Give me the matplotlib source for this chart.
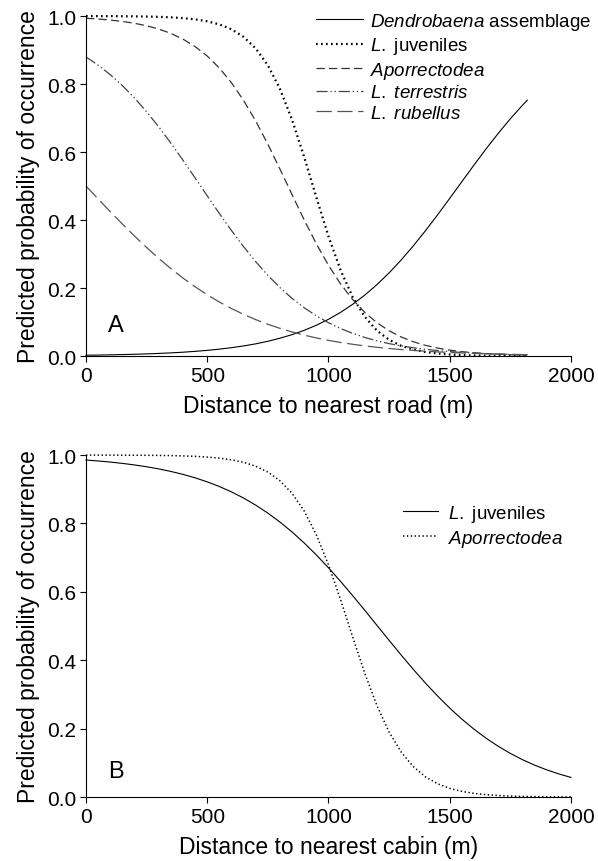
#!/usr/bin/env python3
"""Predicted probability of earthworm occurrence vs. distance to roads / cabins.

Two stacked panels:
  A. distance to nearest road  (5 taxa)
  B. distance to nearest cabin (2 taxa)
"""

import matplotlib
matplotlib.use("Agg")
import matplotlib.pyplot as plt

plt.rcParams["font.family"] = ["Liberation Sans", "DejaVu Sans"]
plt.rcParams["mathtext.fontset"] = "custom"
plt.rcParams["mathtext.rm"] = "Liberation Sans"
plt.rcParams["mathtext.it"] = "Liberation Sans:italic"
plt.rcParams["lines.scale_dashes"] = False

OUT_PNG = "out.png"

# ---- Panel A: distance to nearest road (m) ----
ROAD_DIST = [0, 50, 100, 150, 200, 250, 300, 350, 400, 450, 500, 550, 600,
             650, 700, 750, 800, 850, 900, 950, 1000, 1050, 1100, 1150, 1200,
             1250, 1300, 1350, 1400, 1450, 1500, 1550, 1600, 1650, 1700, 1750,
             1800, 1820]

DENDROBAENA = [0.0024, 0.0029, 0.0035, 0.0043, 0.0052, 0.0063, 0.0077, 0.0093,
               0.0113, 0.0138, 0.0167, 0.0203, 0.0246, 0.0297, 0.0359, 0.0434,
               0.0524, 0.0630, 0.0757, 0.0906, 0.1081, 0.1286, 0.1523, 0.1794,
               0.2102, 0.2446, 0.2827, 0.3242, 0.3687, 0.4154, 0.4638, 0.5129,
               0.5617, 0.6094, 0.6550, 0.6980, 0.7377, 0.7526]

L_JUV_ROAD = [0.9999, 0.9998, 0.9997, 0.9995, 0.9991, 0.9986, 0.9977, 0.9963,
              0.9940, 0.9904, 0.9846, 0.9755, 0.9611, 0.9387, 0.9048, 0.8551,
              0.7855, 0.6945, 0.5852, 0.4668, 0.3521, 0.2522, 0.1731, 0.1150,
              0.0746, 0.0477, 0.0301, 0.0189, 0.0118, 0.0074, 0.0046, 0.0029,
              0.0018, 0.0011, 0.0007, 0.0004, 0.0003, 0.0002]

APORR_ROAD = [0.9936, 0.9913, 0.9883, 0.9842, 0.9788, 0.9715, 0.9618, 0.9490,
              0.9321, 0.9103, 0.8824, 0.8472, 0.8038, 0.7517, 0.6911, 0.6231,
              0.5498, 0.4744, 0.4001, 0.3301, 0.2670, 0.2121, 0.1659, 0.1281,
              0.0980, 0.0743, 0.0560, 0.0420, 0.0314, 0.0234, 0.0174, 0.0129,
              0.0096, 0.0071, 0.0053, 0.0039, 0.0029, 0.0025]

L_TERRESTRIS = [0.8797, 0.8557, 0.8277, 0.7955, 0.7591, 0.7186, 0.6742, 0.6263,
                0.5759, 0.5239, 0.4713, 0.4193, 0.3691, 0.3216, 0.2775, 0.2373,
                0.2013, 0.1696, 0.1420, 0.1182, 0.0980, 0.0809, 0.0666, 0.0546,
                0.0447, 0.0365, 0.0298, 0.0243, 0.0198, 0.0161, 0.0131, 0.0106,
                0.0086, 0.0070, 0.0057, 0.0046, 0.0037, 0.0034]

L_RUBELLUS = [0.5000, 0.4622, 0.4248, 0.3883, 0.3530, 0.3192, 0.2872, 0.2572,
              0.2294, 0.2037, 0.1802, 0.1589, 0.1397, 0.1225, 0.1071, 0.0934,
              0.0814, 0.0707, 0.0614, 0.0532, 0.0461, 0.0399, 0.0345, 0.0298,
              0.0257, 0.0222, 0.0191, 0.0165, 0.0142, 0.0122, 0.0105, 0.0091,
              0.0078, 0.0067, 0.0058, 0.0050, 0.0043, 0.0040]

# ---- Panel B: distance to nearest cabin (m) ----
CABIN_DIST = [0, 50, 100, 150, 200, 250, 300, 350, 400, 450, 500, 550, 600,
              650, 700, 750, 800, 850, 900, 950, 1000, 1050, 1100, 1150, 1200,
              1250, 1300, 1350, 1400, 1450, 1500, 1550, 1600, 1650, 1700, 1750,
              1800, 1850, 1900, 1950, 2000]

L_JUV_CABIN = [0.9855, 0.9828, 0.9796, 0.9757, 0.9712, 0.9659, 0.9596, 0.9522,
               0.9436, 0.9335, 0.9217, 0.9081, 0.8923, 0.8743, 0.8536, 0.8303,
               0.8041, 0.7750, 0.7429, 0.7080, 0.6704, 0.6305, 0.5888, 0.5458,
               0.5020, 0.4582, 0.4151, 0.3732, 0.3331, 0.2954, 0.2602, 0.2278,
               0.1985, 0.1720, 0.1484, 0.1276, 0.1093, 0.0933, 0.0795, 0.0676,
               0.0573]

APORR_CABIN = [0.9999, 0.9999, 0.9998, 0.9997, 0.9996, 0.9994, 0.9990, 0.9985,
               0.9976, 0.9963, 0.9942, 0.9911, 0.9862, 0.9788, 0.9674, 0.9503,
               0.9248, 0.8880, 0.8362, 0.7667, 0.6792, 0.5769, 0.4676, 0.3612,
               0.2670, 0.1900, 0.1313, 0.0887, 0.0590, 0.0388, 0.0253, 0.0165,
               0.0107, 0.0069, 0.0045, 0.0029, 0.0019, 0.0012, 0.0008, 0.0005,
               0.0003]

X_TICKS = [0, 500, 1000, 1500, 2000]
Y_TICKS = [0.0, 0.2, 0.4, 0.6, 0.8, 1.0]

TICK_FS = 15
LABEL_FS = 16.5
LEGEND_FS = 13.5


def style_axes(ax, xlabel, panel, panel_y):
    ax.set_xlim(0, 2000)
    ax.set_ylim(0, 1)
    ax.set_xticks(X_TICKS)
    ax.set_yticks(Y_TICKS)
    ax.set_yticklabels([f"{v:.1f}" for v in Y_TICKS])
    for side in ("top", "right"):
        ax.spines[side].set_visible(False)
    for side in ("left", "bottom"):
        ax.spines[side].set_linewidth(0.8)
    ax.tick_params(direction="out", length=4, width=0.8, labelsize=TICK_FS, pad=3)
    ax.set_xlabel(xlabel, fontsize=LABEL_FS, labelpad=7)
    ax.set_ylabel("Predicted probability of occurrence", fontsize=LABEL_FS, labelpad=5)
    ax.text(0.045, panel_y, panel, transform=ax.transAxes, fontsize=17,
            ha="left", va="center")


def plot_road(ax):
    ax.plot(ROAD_DIST, DENDROBAENA, color="black", lw=0.8, clip_on=False,
            label=r"$\mathit{Dendrobaena}$ assemblage")
    ax.plot(ROAD_DIST, L_JUV_ROAD, color="black", lw=1.6,
            linestyle=(0, (1.2, 2.4)), clip_on=False,
            label=r"$\mathit{L.}$ juveniles")
    ax.plot(ROAD_DIST, APORR_ROAD, color="#333333", lw=0.9,
            linestyle=(0, (6, 3)), clip_on=False,
            label=r"$\mathit{Aporrectodea}$")
    ax.plot(ROAD_DIST, L_TERRESTRIS, color="#444444", lw=0.9,
            linestyle=(0, (8, 2, 1, 2, 1, 2)), clip_on=False,
            label=r"$\mathit{L.\ terrestris}$")
    ax.plot(ROAD_DIST, L_RUBELLUS, color="#555555", lw=0.9,
            linestyle=(0, (11, 4)), clip_on=False,
            label=r"$\mathit{L.\ rubellus}$")

    ax.legend(loc="upper left", bbox_to_anchor=(0.474, 1.015), frameon=False,
              fontsize=LEGEND_FS, handlelength=2.5, handletextpad=0.4,
              labelspacing=0.18, borderpad=0, borderaxespad=0)
    style_axes(ax, "Distance to nearest road (m)", "A", 0.09)


def plot_cabin(ax):
    ax.plot(CABIN_DIST, L_JUV_CABIN, color="black", lw=0.8, clip_on=False,
            label=r"$\mathit{L.}$ juveniles")
    ax.plot(CABIN_DIST, APORR_CABIN, color="black", lw=1.1,
            linestyle=(0, (1, 1.8)), clip_on=False,
            label=r"$\mathit{Aporrectodea}$")

    ax.legend(loc="upper left", bbox_to_anchor=(0.653, 0.86), frameon=False,
              fontsize=LEGEND_FS, handlelength=1.9, handletextpad=0.5,
              labelspacing=0.2, borderpad=0, borderaxespad=0)
    style_axes(ax, "Distance to nearest cabin (m)", "B", 0.075)


def main():
    fig = plt.figure(figsize=(5.98, 8.62), dpi=100)
    ax_a = fig.add_axes([0.1438, 0.5858, 0.811, 0.3944])
    ax_b = fig.add_axes([0.1438, 0.0742, 0.811, 0.3967])

    plot_road(ax_a)
    plot_cabin(ax_b)

    fig.savefig(OUT_PNG, dpi=100)
    plt.close(fig)


if __name__ == "__main__":
    main()
